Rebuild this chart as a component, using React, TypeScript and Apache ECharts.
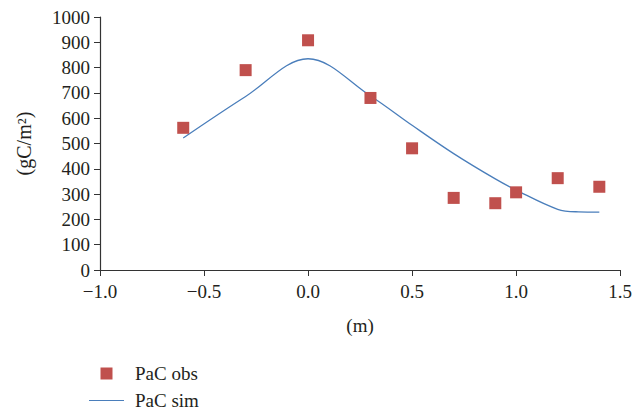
import React, { useEffect, useRef } from "react";
import * as echarts from "echarts";

const obsX = [-0.6, -0.3, 0.0, 0.3, 0.5, 0.7, 0.9, 1.0, 1.2, 1.4];
const obsY = [562, 790, 908, 680, 481, 285, 264, 307, 363, 329];
const simX = [-0.6, -0.3, 0.0, 0.3, 0.5, 0.7, 0.9, 1.0, 1.2, 1.3, 1.4];
const simY = [522, 686, 835, 688, 572, 460, 360, 316, 240, 230, 229];
const xTicks = [-1.0, -0.5, 0.0, 0.5, 1.0, 1.5];
const yTicks = [0, 100, 200, 300, 400, 500, 600, 700, 800, 900, 1000];

const FONT = "Liberation Serif";

export default function App() {
  const ref = useRef<HTMLDivElement>(null);
  useEffect(() => {
    if (!ref.current) return;
    const chart = echarts.init(ref.current, null, { renderer: "svg" });
    const axisColor = "#333";
    chart.setOption({
      animation: false,
      backgroundColor: "#fff",
      textStyle: { fontFamily: FONT },
      grid: { left: 100, right: 10, top: 17, bottom: 143, containLabel: false },
      xAxis: {
        type: "value",
        min: xTicks[0],
        max: xTicks[xTicks.length - 1],
        interval: 0.5,
        name: "(m)",
        nameLocation: "middle",
        nameGap: 46,
        nameTextStyle: { fontFamily: FONT, fontSize: 19, color: "#231f20" },
        axisLine: { show: true, onZero: false, lineStyle: { color: axisColor, width: 1.2 } },
        axisTick: { show: true, length: 6, lineStyle: { color: axisColor } },
        axisLabel: {
          fontFamily: FONT,
          fontSize: 19,
          color: "#231f20",
          margin: 12,
          formatter: (v: number) => v.toFixed(1).replace("-", "\u2212"),
        },
        splitLine: { show: false },
      },
      yAxis: {
        type: "value",
        min: yTicks[0],
        max: yTicks[yTicks.length - 1],
        interval: 100,
        name: "(gC/m²)",
        nameLocation: "middle",
        nameGap: 66,
        nameRotate: 90,
        nameTextStyle: { fontFamily: FONT, fontSize: 20, color: "#231f20" },
        axisLine: { show: true, onZero: false, lineStyle: { color: axisColor, width: 1.2 } },
        axisTick: { show: true, length: 6, lineStyle: { color: axisColor } },
        axisLabel: {
          fontFamily: FONT,
          fontSize: 19,
          color: "#231f20",
          margin: 10,
          formatter: (v: number) => String(v),
        },
        splitLine: { show: false },
      },
      legend: {
        orient: "vertical",
        left: 89,
        top: 364,
        height: 60,
        itemWidth: 35,
        itemHeight: 12,
        itemGap: 8,
        padding: 0,
        textStyle: { fontFamily: FONT, fontSize: 19, color: "#231f20", padding: [0, 0, 0, 6] },
        data: [
          { name: "PaC obs", icon: "path://M0,0h10v10h-10z" },
          { name: "PaC sim", icon: "path://M0,0h35v1.2h-35z" },
        ],
      },
      series: [
        {
          name: "PaC obs",
          type: "scatter",
          symbol: "rect",
          symbolSize: 12,
          itemStyle: { color: "#c0504d", opacity: 1 },
          data: obsX.map((x, i) => [x, obsY[i]]),
          z: 3,
        },
        {
          name: "PaC sim",
          type: "line",
          smooth: 0.35,
          symbol: "none",
          showSymbol: false,
          lineStyle: { color: "#4a7ebb", width: 1.3 },
          itemStyle: { color: "#4a7ebb" },
          data: simX.map((x, i) => [x, simY[i]]),
          z: 2,
        },
      ],
    });
    return () => chart.dispose();
  }, []);
  return <div ref={ref} style={{ width: 635, height: 413, position: "absolute", left: 0, top: 0 }} />;
}
